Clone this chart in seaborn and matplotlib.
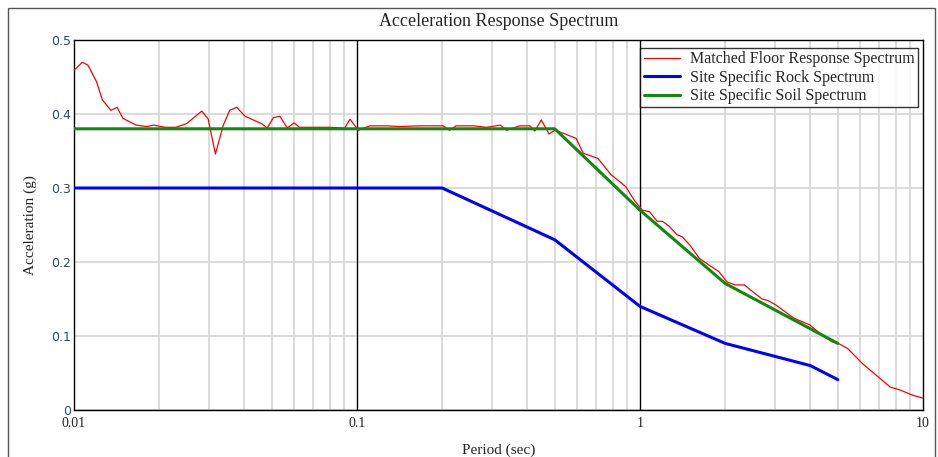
import numpy as np
import seaborn as sns
import matplotlib.pyplot as plt
import pandas as pd
from matplotlib.patches import Rectangle
from matplotlib.ticker import FixedLocator, NullFormatter

# data
period_floor = [0.01, 0.0107, 0.0112, 0.0120, 0.0126, 0.0135, 0.0142, 0.0149, 0.0166, 0.0181,
                0.0191, 0.0210, 0.0229, 0.0250, 0.0283, 0.0298, 0.0316, 0.0337, 0.0355, 0.0376,
                0.0402, 0.0430, 0.0460, 0.0482, 0.0506, 0.0534, 0.0567, 0.0599, 0.0626, 0.0672,
                0.0801, 0.0905, 0.0945, 0.101, 0.111, 0.1285, 0.141, 0.167, 0.2015, 0.2125,
                0.224, 0.258, 0.287, 0.3205, 0.338, 0.376, 0.408, 0.425, 0.448, 0.477,
                0.50, 0.544, 0.595, 0.63, 0.71, 0.79, 0.89, 0.96, 1.02, 1.08,
                1.15, 1.2, 1.27, 1.35, 1.41, 1.50, 1.62, 1.75, 1.90, 2.03,
                2.17, 2.34, 2.5, 2.70, 2.83, 3.02, 3.5, 3.98, 4.4, 4.78,
                5.08, 5.42, 6.1, 7.66, 8.3, 9.2, 10.0]
accel_floor = [0.459, 0.470, 0.466, 0.444, 0.419, 0.405, 0.409, 0.394, 0.385, 0.383,
               0.385, 0.382, 0.382, 0.387, 0.404, 0.393, 0.346, 0.385, 0.405, 0.409,
               0.397, 0.392, 0.387, 0.381, 0.395, 0.397, 0.381, 0.388, 0.382, 0.382,
               0.382, 0.381, 0.393, 0.378, 0.384, 0.384, 0.383, 0.384, 0.384, 0.378,
               0.384, 0.384, 0.382, 0.385, 0.378, 0.384, 0.384, 0.377, 0.392, 0.373,
               0.378, 0.373, 0.367, 0.347, 0.340, 0.318, 0.302, 0.282, 0.270, 0.268,
               0.255, 0.255, 0.248, 0.237, 0.234, 0.223, 0.205, 0.196, 0.187, 0.173,
               0.169, 0.169, 0.160, 0.150, 0.148, 0.142, 0.124, 0.115, 0.101, 0.092,
               0.089, 0.083, 0.063, 0.031, 0.027, 0.020, 0.016]

period_rock = [0.01, 0.2, 0.5, 1.0, 2.0, 4.0, 5.0]
accel_rock = [0.30, 0.30, 0.23, 0.14, 0.09, 0.06, 0.041]

period_soil = [0.01, 0.5, 1.0, 2.0, 5.0]
accel_soil = [0.38, 0.38, 0.27, 0.171, 0.09]

x_ticks = [0.01, 0.1, 1, 10]
x_labels = ["0.01", "0.1", "1", "10"]
y_ticks = [0, 0.1, 0.2, 0.3, 0.4, 0.5]
y_labels = ["0", "0.1", "0.2", "0.3", "0.4", "0.5"]

sns.set_style("white")
plt.rcParams['font.family'] = ['Liberation Serif', 'DejaVu Serif']

df_floor = pd.DataFrame({"period": period_floor, "accel": accel_floor})
df_rock = pd.DataFrame({"period": period_rock, "accel": accel_rock})
df_soil = pd.DataFrame({"period": period_soil, "accel": accel_soil})

fig = plt.figure(figsize=(9.38, 4.57), dpi=100)
ax = fig.add_axes([74 / 938, 47 / 457, 849 / 938, 370 / 457])

sns.lineplot(data=df_floor, x="period", y="accel", color='#ff0000', linewidth=0.9,
             estimator=None, label="Matched Floor Response Spectrum", ax=ax, zorder=3)
sns.lineplot(data=df_rock, x="period", y="accel", color='#0000ff', linewidth=2.2,
             estimator=None, label="Site Specific Rock Spectrum", ax=ax, zorder=4)
sns.lineplot(data=df_soil, x="period", y="accel", color='#118811', linewidth=2.2,
             estimator=None, label="Site Specific Soil Spectrum", ax=ax, zorder=4)

ax.set_xscale('log')
ax.set_xlim(0.01, 10)
ax.set_ylim(0, 0.5)

# gridlines
minors = [m * d for d in [0.01, 0.1, 1] for m in range(2, 10)]
ax.xaxis.set_minor_locator(FixedLocator(minors))
ax.xaxis.set_minor_formatter(NullFormatter())
ax.set_xticks(x_ticks)
ax.set_xticklabels(x_labels, fontsize=10)
ax.set_yticks(y_ticks)
ax.set_yticklabels(y_labels, fontsize=9, family='DejaVu Sans', color='#34495e')
ax.grid(True, which='minor', axis='x', color='#d6d6d6', linewidth=1.2, zorder=0)
ax.grid(True, which='major', axis='y', color='#d6d6d6', linewidth=1.2, zorder=0)
for v in [0.1, 1]:
    ax.axvline(v, color='black', linewidth=1, zorder=1)
ax.tick_params(axis='both', which='both', length=0)
ax.tick_params(axis='x', pad=5)
ax.tick_params(axis='y', pad=2)
for s in ax.spines.values():
    s.set_color('black')
    s.set_linewidth(1)

ax.set_title("Acceleration Response Spectrum", fontsize=13, pad=10)
ax.set_xlabel("Period (sec)", fontsize=11, labelpad=10)
ax.set_ylabel("Acceleration (g)", fontsize=11, labelpad=10)

leg = ax.legend(loc='upper right', bbox_to_anchor=(0.994, 0.978), borderaxespad=0,
                fontsize=11.5, frameon=True, fancybox=False, handlelength=2.3,
                borderpad=0.2, labelspacing=0.15, handletextpad=0.6)
leg.get_frame().set_edgecolor('black')
leg.get_frame().set_linewidth(1)

fig.add_artist(Rectangle((8 / 938, -0.05), 927 / 938, 1 - 8 / 457 + 0.05,
                         transform=fig.transFigure, fill=False, edgecolor='#555555', linewidth=1))

fig.savefig("out.png", dpi=100)
